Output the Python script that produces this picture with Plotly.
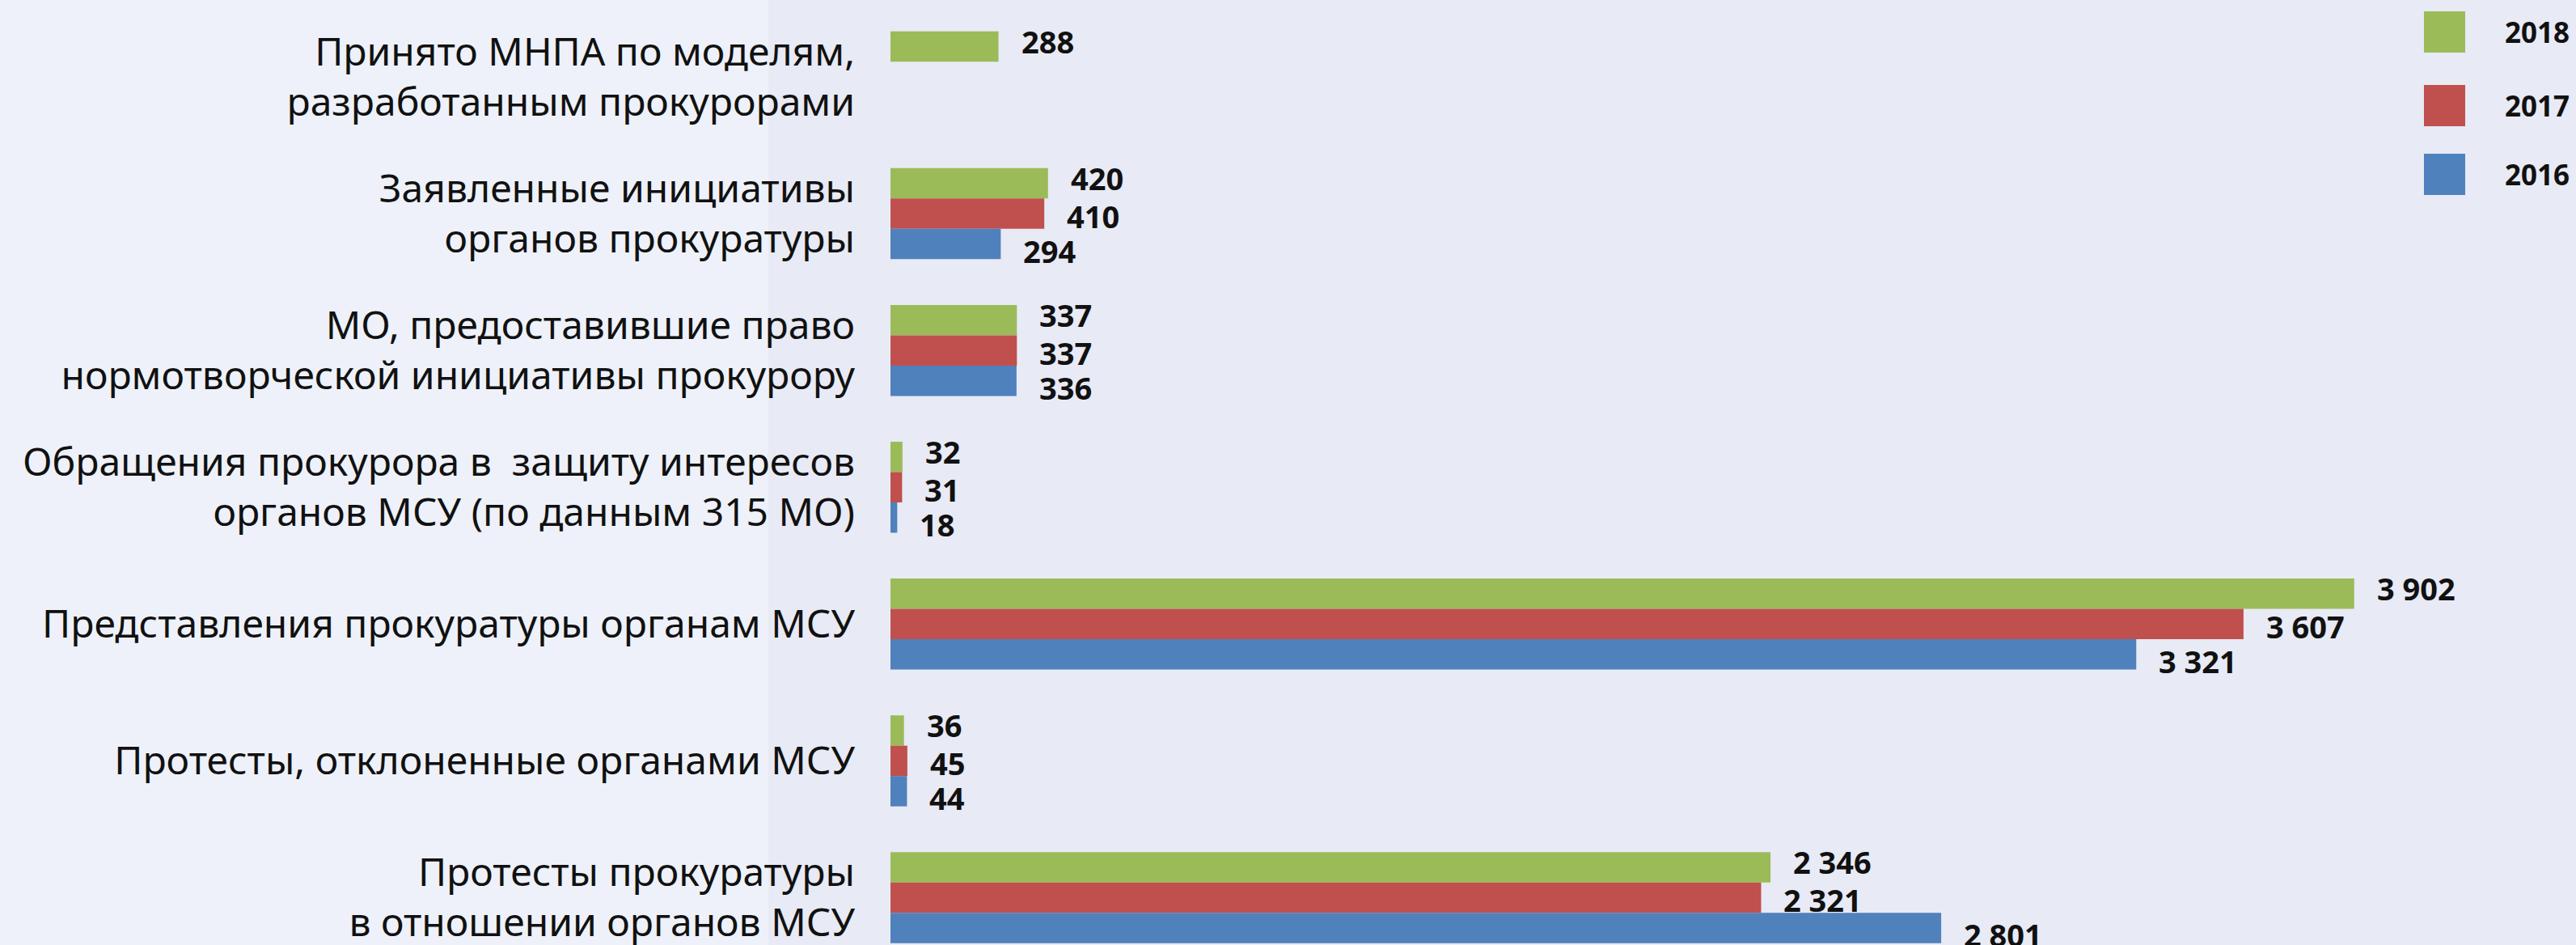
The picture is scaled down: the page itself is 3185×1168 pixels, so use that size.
import plotly.graph_objects as go

categories = [
    "Принято МНПА по моделям,<br>разработанным прокурорами",
    "Заявленные инициативы<br>органов прокуратуры",
    "МО, предоставившие право<br>нормотворческой инициативы прокурору",
    "Обращения прокурора в  защиту интересов<br>органов МСУ (по данным 315 МО)",
    "Представления прокуратуры органам МСУ",
    "Протесты, отклоненные органами МСУ",
    "Протесты прокуратуры<br>в отношении органов МСУ",
]
series_names = ["2018", "2017", "2016"]
v2018 = [288, 420, 337, 32, 3902, 36, 2346]
v2017 = [None, 410, 337, 31, 3607, 45, 2321]
v2016 = [None, 294, 336, 18, 3321, 44, 2801]
series_values = [v2018, v2017, v2016]
colors = ["#9bbb59", "#c0504d", "#4f81bd"]

W, H = 3185, 1168
LEFT = 1101
PX_PER_UNIT = 0.4638
CAT_PX = 169.08
FIRST_CENTER = 95.0


def px_x(px):
    # convert a figure pixel x into paper coordinates (paper spans the plot area)
    return (px - LEFT) / (W - LEFT)


def px_y(px):
    return 1 - px / H


fig = go.Figure()
for name, vals, col in zip(series_names, series_values, colors):
    fig.add_trace(go.Bar(
        y=categories, x=vals, name=name, orientation="h",
        marker=dict(color=col, line=dict(width=0)),
        showlegend=False, hoverinfo="x+name",
    ))

# value labels
label_yshift = [44, -3, -46]
annotations = []
for vals, ys in zip(series_values, label_yshift):
    for cat, v in zip(categories, vals):
        if v is None:
            continue
        annotations.append(dict(
            x=v, y=cat, xref="x", yref="y", xanchor="left", yanchor="middle",
            xshift=26, yshift=ys, showarrow=False,
            text=f"{v:,}".replace(",", " "),
            font=dict(family="Noto Sans", size=38, color="#111111", weight="bold"),
        ))

# lighter background band on the left and a manual legend with large swatches
shapes = [
    dict(type="rect", xref="paper", yref="paper", x0=px_x(0), x1=px_x(950), y0=0, y1=1,
         fillcolor="#eef1f9", line=dict(width=0), layer="below"),
]
legend_rows = [39.5, 130.5, 215.5]
for name, col, cy in zip(series_names, colors, legend_rows):
    shapes.append(dict(type="rect", xref="paper", yref="paper",
                       x0=px_x(2997), x1=px_x(3048),
                       y0=px_y(cy + 25.5), y1=px_y(cy - 25.5),
                       fillcolor=col, line=dict(width=0)))
    annotations.append(dict(x=px_x(3095), y=px_y(cy), xref="paper", yref="paper",
                            xanchor="left", yanchor="middle", showarrow=False,
                            text=name,
                            font=dict(family="Noto Sans", size=35, color="#111111", weight="bold")))

y_top = -FIRST_CENTER / CAT_PX
y_bot = (H - FIRST_CENTER) / CAT_PX

fig.update_layout(
    width=W, height=H,
    margin=dict(l=LEFT, r=0, t=0, b=0, pad=0, autoexpand=False),
    paper_bgcolor="#e8eaf5",
    plot_bgcolor="rgba(0,0,0,0)",
    barmode="group", bargap=0.335, bargroupgap=0,
    xaxis=dict(range=[0, (W - LEFT) / PX_PER_UNIT], visible=False,
               showgrid=False, zeroline=False, automargin=False),
    yaxis=dict(range=[y_bot, y_top], showgrid=False, zeroline=False,
               showline=False, ticks="", ticklabelstandoff=43, automargin=False,
               tickfont=dict(family="Noto Sans", size=48, color="#111111")),
    shapes=shapes,
    annotations=annotations,
    showlegend=False,
)

fig.write_html("out.html", config={"displayModeBar": False},
               post_script="document.body.style.margin='0';document.body.style.overflow='hidden';")
